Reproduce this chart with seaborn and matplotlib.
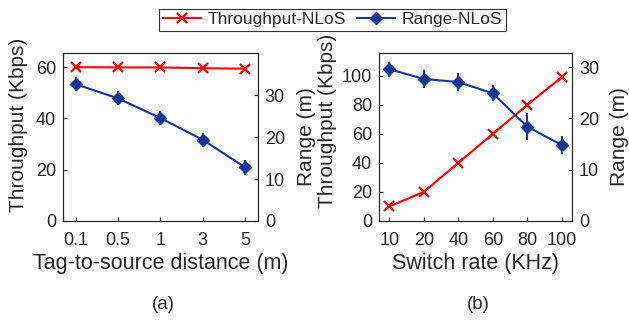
import matplotlib
matplotlib.use("Agg")
import matplotlib.pyplot as plt
import numpy as np
import pandas as pd
import seaborn as sns
from matplotlib.lines import Line2D

# (a) tag-to-source distance
dist_labels = ["0.1", "0.5", "1", "3", "5"]
dist_tput = [60.0, 59.9, 59.9, 59.6, 59.4]
dist_range = [32.7, 29.3, 24.6, 19.4, 12.8]
dist_range_err = [1.6, 1.7, 1.7, 1.7, 1.8]

# (b) switch rate
rate_labels = ["10", "20", "40", "60", "80", "100"]
rate_tput = [10.0, 20.0, 40.0, 60.0, 80.0, 99.2]
rate_range = [29.6, 27.7, 27.1, 24.9, 18.4, 14.8]
rate_range_err = [1.5, 1.7, 1.7, 1.6, 2.6, 1.8]

RED = "#ff0000"
BLUE = "#1a3596"

sns.set_style("ticks")
plt.rcParams["font.family"] = ["Liberation Sans", "DejaVu Sans"]
plt.rcParams["xtick.direction"] = "in"
plt.rcParams["ytick.direction"] = "in"

fig = plt.figure(figsize=(6.29, 3.22), dpi=100)


def panel(rect, labels, tput, rng, err, tlim, tticks, rlim, rticks, xlabel, cap,
          ylab_pos, rlab_x):
    ax = fig.add_axes(rect)
    df = pd.DataFrame({"x": np.arange(len(labels)), "tput": tput})
    sns.lineplot(data=df, x="x", y="tput", ax=ax, color=RED, marker="x",
                 markersize=6.5, markeredgewidth=1.6, markeredgecolor=RED,
                 linewidth=1.5)
    ax.set_ylim(*tlim)
    ax.set_yticks(tticks)
    ax.set_xlim(-0.3, len(labels) - 0.7)
    ax.set_xticks(np.arange(len(labels)))
    ax.set_xticklabels(labels)
    ax.set_xlabel(xlabel, fontsize=15.5, labelpad=3)
    ax.set_ylabel("Throughput (Kbps)", fontsize=15)
    ax.yaxis.set_label_coords(*ylab_pos)
    ax.tick_params(labelsize=13, length=3, pad=5)
    ax.tick_params(axis="x", pad=8)

    ax2 = ax.twinx()
    ax2.errorbar(np.arange(len(labels)), rng, yerr=err, color=BLUE,
                 marker="D", markersize=6, linewidth=1.5, elinewidth=1.5)
    ax2.set_ylim(*rlim)
    ax2.set_yticks(rticks)
    ax2.set_ylabel("Range (m)", fontsize=15)
    ax2.yaxis.set_label_coords(rlab_x, 0.5)
    ax2.tick_params(labelsize=13, length=3, pad=5, direction="in")
    for a in (ax, ax2):
        for s in a.spines.values():
            s.set_linewidth(0.8)
    fig.text(rect[0] + rect[2] / 2 + 0.005, 0.055, cap, ha="center",
             va="center", fontsize=13.5)
    return ax


panel([0.100, 0.314, 0.310, 0.522], dist_labels, dist_tput, dist_range,
      dist_range_err, (0, 65.6), [0, 20, 40, 60], (0, 40.2), [0, 10, 20, 30],
      "Tag-to-source distance (m)", "(a)", (-0.18, 0.57), 1.2)
panel([0.6025, 0.314, 0.307, 0.522], rate_labels, rate_tput, rate_range,
      rate_range_err, (0, 116), [0, 20, 40, 60, 80, 100], (0, 32.8),
      [0, 10, 20, 30], "Switch rate (KHz)", "(b)", (-0.218, 0.595), 1.197)

handles = [
    Line2D([], [], color=RED, marker="x", markersize=6.5, markeredgewidth=1.6, linewidth=1.5),
    Line2D([], [], color=BLUE, marker="D", markersize=6, linewidth=1.5),
]
leg = fig.legend(handles, ["Throughput-NLoS", "Range-NLoS"], loc="upper center",
                 bbox_to_anchor=(0.529, 1.0), ncol=2, fontsize=12.5,
                 frameon=True, fancybox=False, edgecolor="black",
                 handlelength=2.2, handletextpad=0.4, columnspacing=0.6,
                 borderpad=0.2)
leg.get_frame().set_linewidth(0.8)

fig.savefig("out.png", dpi=100)
